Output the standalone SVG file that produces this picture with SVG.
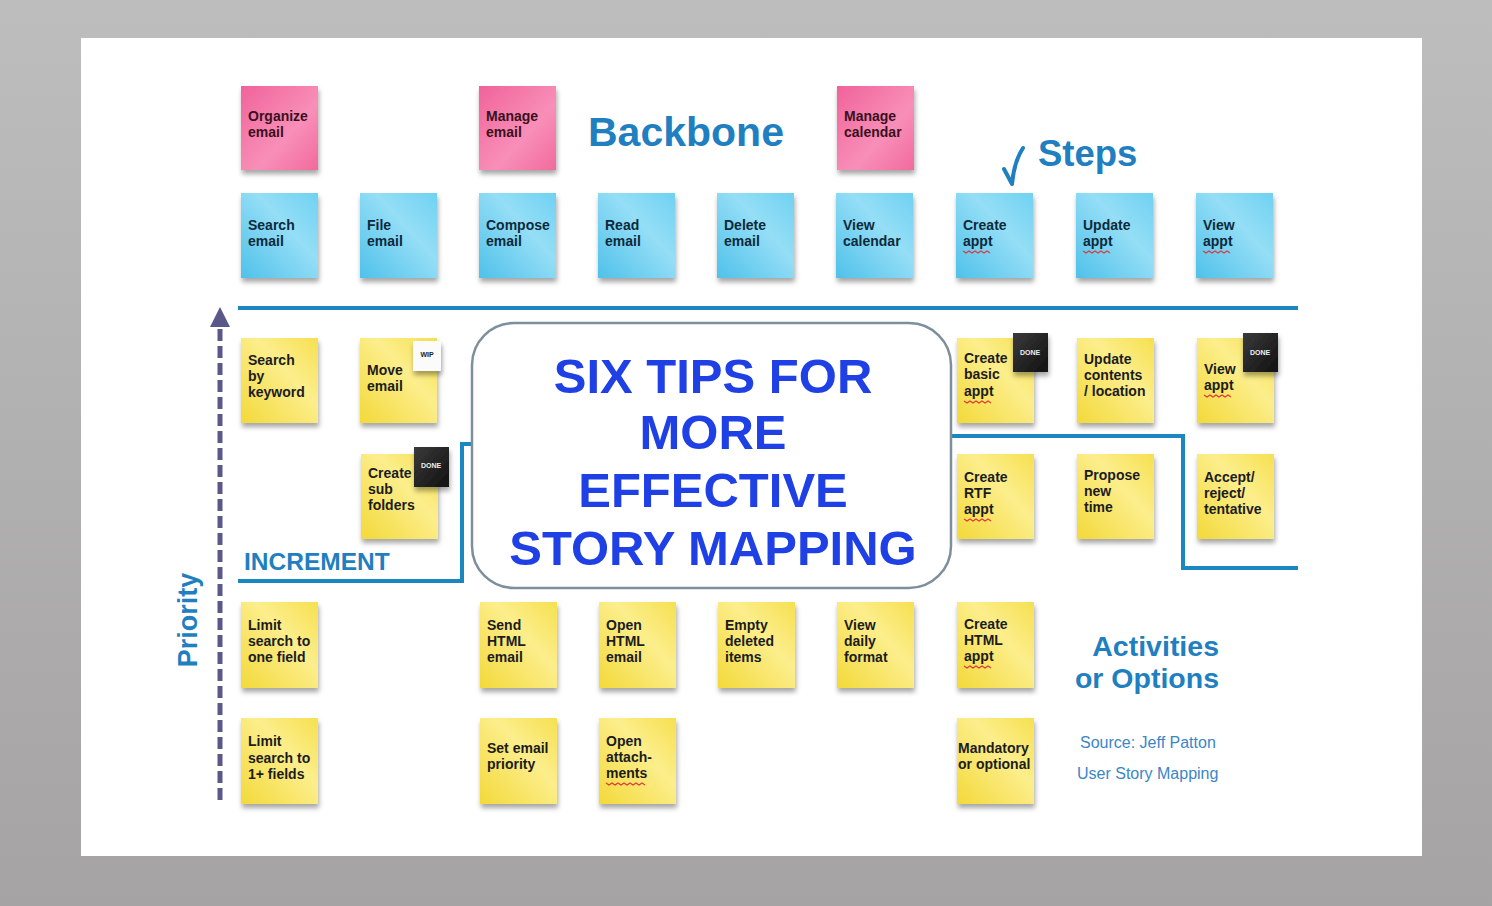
<svg xmlns="http://www.w3.org/2000/svg" width="1492" height="906" viewBox="0 0 1492 906">
<defs>
<linearGradient id="bg" x1="0" y1="0" x2="0" y2="1"><stop offset="0" stop-color="#bdbdbd"/><stop offset="1" stop-color="#a5a3a3"/></linearGradient>
<linearGradient id="gp" x1="0" y1="0" x2="1" y2="1"><stop offset="0" stop-color="#f0639a"/><stop offset="0.6" stop-color="#f88fb8"/><stop offset="1" stop-color="#f26a9d"/></linearGradient>
<linearGradient id="gb" x1="0" y1="1" x2="1" y2="0"><stop offset="0" stop-color="#4fc1ea"/><stop offset="0.6" stop-color="#95def6"/><stop offset="1" stop-color="#6fd2f2"/></linearGradient>
<linearGradient id="gy" x1="0" y1="1" x2="1" y2="0"><stop offset="0" stop-color="#f3d93a"/><stop offset="0.6" stop-color="#fcee8c"/><stop offset="1" stop-color="#f6e050"/></linearGradient>
<linearGradient id="gd" x1="0" y1="0" x2="1" y2="1"><stop offset="0" stop-color="#3a3a3a"/><stop offset="1" stop-color="#111"/></linearGradient>
<filter id="sh" x="-20%" y="-20%" width="140%" height="150%"><feDropShadow dx="1" dy="4" stdDeviation="2.5" flood-color="#000" flood-opacity="0.35"/></filter>
</defs>
<style>
.n text{font-family:"Liberation Sans",Arial,sans-serif;font-weight:bold;font-size:14px;fill:#1c1c1c}
.p > rect{fill:url(#gp)} .p text{fill:#3a1020}
.b > rect{fill:url(#gb)} .b text{fill:#0e2a3a}
.y > rect{fill:url(#gy)}
.st{filter:url(#sh)}
.lab{font-family:"Liberation Sans",Arial,sans-serif;font-weight:bold;fill:#1f7fc0}
.ttl{font-family:"Liberation Sans",Arial,sans-serif;font-weight:bold;font-size:49px;fill:#1f40e4;text-anchor:middle}
.blue{fill:none;stroke:#1b87c0;stroke-width:4}
.sq{fill:none;stroke:#e03a3a;stroke-width:1.2}
.n .tag text{font-family:"Liberation Sans",Arial,sans-serif;font-weight:bold;font-size:7px;text-anchor:middle}
.n .tag rect.done{fill:url(#gd)}
.n .tag rect.wip{fill:#fbfbfb}
.n .tag text.dt{fill:#eeeeee}
.n .tag text.wt{fill:#222222}
.src{font-family:"Liberation Sans",Arial,sans-serif;font-size:16px;fill:#3b86c6}
</style>
<rect x="0" y="0" width="1492" height="906" fill="url(#bg)"/>
<rect x="81" y="38" width="1341" height="818" fill="#ffffff"/>

<g id="connectors">
<path class="blue" d="M238,308 H1298"/>
<path class="blue" d="M238,581 H462 V444 H472"/>
<path class="blue" d="M951,436 H1183 V568 H1298"/>
<path d="M220,800 V322" fill="none" stroke="#5a5888" stroke-width="5" stroke-dasharray="12,5"/>
<polygon points="210,327 230,327 220,307" fill="#5a5888"/>
<path d="M1023,148 Q1014,162 1012,184 M1004,169 L1012,184" fill="none" stroke="#1f7fc0" stroke-width="4" stroke-linecap="round"/>
</g>

<g id="labels">
<text class="lab" x="588" y="146" font-size="41">Backbone</text>
<text class="lab" x="1038" y="166" font-size="36.5">Steps</text>
<text class="lab" x="244" y="570" font-size="24.5">INCREMENT</text>
<text class="lab" transform="translate(197,620) rotate(-90)" text-anchor="middle" font-size="27">Priority</text>
<text class="lab" x="1219" y="656" font-size="28.5" text-anchor="end">Activities</text>
<text class="lab" x="1219" y="688" font-size="28.5" text-anchor="end">or Options</text>
<text class="src" x="1080" y="748">Source: Jeff Patton</text>
<text class="src" x="1077" y="779">User Story Mapping</text>
</g>

<g id="title">
<rect x="472" y="323" width="479" height="265" rx="42" fill="#ffffff" stroke="#7d8f9d" stroke-width="2.5"/>
<text class="ttl" x="713" y="393">SIX TIPS FOR</text>
<text class="ttl" x="713" y="449">MORE</text>
<text class="ttl" x="713" y="507">EFFECTIVE</text>
<text class="ttl" x="713" y="565">STORY MAPPING</text>
</g>

<!-- Backbone (pink) -->
<g id="organize-email" class="n p"><rect class="st" x="241" y="86" width="77" height="84"/><text x="248" y="121">Organize</text><text x="248" y="137">email</text></g>
<g id="manage-email" class="n p"><rect class="st" x="479" y="86" width="77" height="84"/><text x="486" y="121">Manage</text><text x="486" y="137">email</text></g>
<g id="manage-calendar" class="n p"><rect class="st" x="837" y="86" width="77" height="84"/><text x="844" y="121">Manage</text><text x="844" y="137">calendar</text></g>

<!-- Steps (blue) -->
<g id="search-email" class="n b"><rect class="st" x="241" y="193" width="77" height="85"/><text x="248" y="230">Search</text><text x="248" y="246">email</text></g>
<g id="file-email" class="n b"><rect class="st" x="360" y="193" width="77" height="85"/><text x="367" y="230">File</text><text x="367" y="246">email</text></g>
<g id="compose-email" class="n b"><rect class="st" x="479" y="193" width="77" height="85"/><text x="486" y="230">Compose</text><text x="486" y="246">email</text></g>
<g id="read-email" class="n b"><rect class="st" x="598" y="193" width="77" height="85"/><text x="605" y="230">Read</text><text x="605" y="246">email</text></g>
<g id="delete-email" class="n b"><rect class="st" x="717" y="193" width="77" height="85"/><text x="724" y="230">Delete</text><text x="724" y="246">email</text></g>
<g id="view-calendar" class="n b"><rect class="st" x="836" y="193" width="77" height="85"/><text x="843" y="230">View</text><text x="843" y="246">calendar</text></g>
<g id="create-appt" class="n b"><rect class="st" x="956" y="193" width="77" height="85"/><text x="963" y="230">Create</text><text x="963" y="246">appt</text><path class="sq" d="M963,251 l3,2 l3,-2 l3,2 l3,-2 l3,2 l3,-2 l3,2 l3,-2 l3,2"/></g>
<g id="update-appt" class="n b"><rect class="st" x="1076" y="193" width="77" height="85"/><text x="1083" y="230">Update</text><text x="1083" y="246">appt</text><path class="sq" d="M1083,251 l3,2 l3,-2 l3,2 l3,-2 l3,2 l3,-2 l3,2 l3,-2 l3,2"/></g>
<g id="view-appt" class="n b"><rect class="st" x="1196" y="193" width="77" height="85"/><text x="1203" y="230">View</text><text x="1203" y="246">appt</text><path class="sq" d="M1203,251 l3,2 l3,-2 l3,2 l3,-2 l3,2 l3,-2 l3,2 l3,-2 l3,2"/></g>

<!-- Yellow row 1 -->
<g id="search-by-keyword" class="n y"><rect class="st" x="241" y="338" width="77" height="85"/><text x="248" y="365">Search</text><text x="248" y="381">by</text><text x="248" y="397">keyword</text></g>
<g id="move-email" class="n y"><rect class="st" x="360" y="338" width="77" height="85"/><text x="367" y="375">Move</text><text x="367" y="391">email</text>
<g class="tag"><rect class="st wip" x="413" y="341" width="28" height="30"/><text class="wt" x="427" y="357">WIP</text></g></g>
<g id="create-basic-appt" class="n y"><rect class="st" x="957" y="338" width="77" height="85"/><text x="964" y="363">Create</text><text x="964" y="379">basic</text><text x="964" y="396">appt</text><path class="sq" d="M964,401 l3,2 l3,-2 l3,2 l3,-2 l3,2 l3,-2 l3,2 l3,-2 l3,2"/>
<g class="tag"><rect class="st done" x="1013" y="333" width="35" height="39"/><text class="dt" x="1030" y="355">DONE</text></g></g>
<g id="update-contents" class="n y"><rect class="st" x="1077" y="338" width="77" height="85"/><text x="1084" y="364">Update</text><text x="1084" y="380">contents</text><text x="1084" y="396">/ location</text></g>
<g id="view-appt-2" class="n y"><rect class="st" x="1197" y="338" width="77" height="85"/><text x="1204" y="374">View</text><text x="1204" y="390">appt</text><path class="sq" d="M1204,395 l3,2 l3,-2 l3,2 l3,-2 l3,2 l3,-2 l3,2 l3,-2 l3,2"/>
<g class="tag"><rect class="st done" x="1243" y="333" width="35" height="39"/><text class="dt" x="1260" y="355">DONE</text></g></g>

<!-- Yellow row 2 -->
<g id="create-sub-folders" class="n y"><rect class="st" x="361" y="454" width="77" height="85"/><text x="368" y="478">Create</text><text x="368" y="494">sub</text><text x="368" y="510">folders</text>
<g class="tag"><rect class="st done" x="414" y="447" width="35" height="40"/><text class="dt" x="431" y="468">DONE</text></g></g>
<g id="create-rtf-appt" class="n y"><rect class="st" x="957" y="454" width="77" height="85"/><text x="964" y="482">Create</text><text x="964" y="498">RTF</text><text x="964" y="514">appt</text><path class="sq" d="M964,519 l3,2 l3,-2 l3,2 l3,-2 l3,2 l3,-2 l3,2 l3,-2 l3,2"/></g>
<g id="propose-new-time" class="n y"><rect class="st" x="1077" y="454" width="77" height="85"/><text x="1084" y="480">Propose</text><text x="1084" y="496">new</text><text x="1084" y="512">time</text></g>
<g id="accept-reject" class="n y"><rect class="st" x="1197" y="454" width="77" height="85"/><text x="1204" y="482">Accept/</text><text x="1204" y="498">reject/</text><text x="1204" y="514">tentative</text></g>

<!-- Yellow row 3 -->
<g id="limit-one-field" class="n y"><rect class="st" x="241" y="602" width="77" height="86"/><text x="248" y="630">Limit</text><text x="248" y="646">search to</text><text x="248" y="662">one field</text></g>
<g id="send-html-email" class="n y"><rect class="st" x="480" y="602" width="77" height="86"/><text x="487" y="630">Send</text><text x="487" y="646">HTML</text><text x="487" y="662">email</text></g>
<g id="open-html-email" class="n y"><rect class="st" x="599" y="602" width="77" height="86"/><text x="606" y="630">Open</text><text x="606" y="646">HTML</text><text x="606" y="662">email</text></g>
<g id="empty-deleted-items" class="n y"><rect class="st" x="718" y="602" width="77" height="86"/><text x="725" y="630">Empty</text><text x="725" y="646">deleted</text><text x="725" y="662">items</text></g>
<g id="view-daily-format" class="n y"><rect class="st" x="837" y="602" width="77" height="86"/><text x="844" y="630">View</text><text x="844" y="646">daily</text><text x="844" y="662">format</text></g>
<g id="create-html-appt" class="n y"><rect class="st" x="957" y="602" width="77" height="86"/><text x="964" y="629">Create</text><text x="964" y="645">HTML</text><text x="964" y="661">appt</text><path class="sq" d="M964,666 l3,2 l3,-2 l3,2 l3,-2 l3,2 l3,-2 l3,2 l3,-2 l3,2"/></g>

<!-- Yellow row 4 -->
<g id="limit-1-fields" class="n y"><rect class="st" x="241" y="718" width="77" height="86"/><text x="248" y="746">Limit</text><text x="248" y="763">search to</text><text x="248" y="779">1+ fields</text></g>
<g id="set-email-priority" class="n y"><rect class="st" x="480" y="718" width="77" height="86"/><text x="487" y="753">Set email</text><text x="487" y="769">priority</text></g>
<g id="open-attachments" class="n y"><rect class="st" x="599" y="718" width="77" height="86"/><text x="606" y="746">Open</text><text x="606" y="762">attach-</text><text x="606" y="778">ments</text><path class="sq" d="M606,783 l3,2 l3,-2 l3,2 l3,-2 l3,2 l3,-2 l3,2 l3,-2 l3,2 l3,-2 l3,2 l3,-2 l3,2"/></g>
<g id="mandatory-or-optional" class="n y"><rect class="st" x="957" y="718" width="77" height="86"/><text x="958" y="753">Mandatory</text><text x="958" y="769">or optional</text></g>
</svg>
